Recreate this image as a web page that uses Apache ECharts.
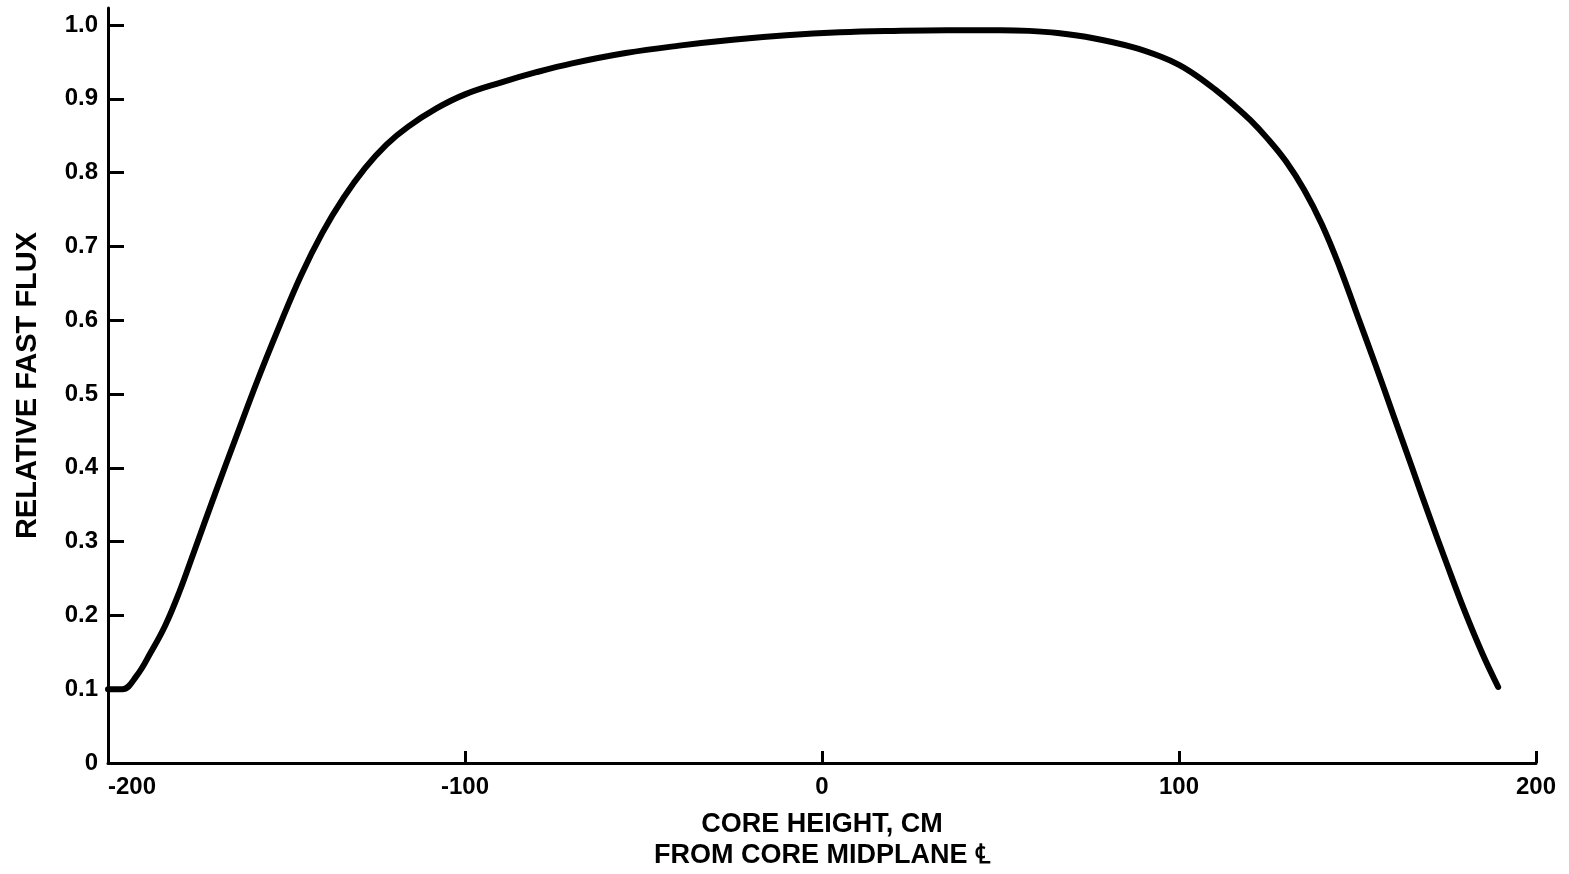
<!DOCTYPE html>
<html>
<head>
<meta charset="utf-8">
<script src="https://cdn.jsdelivr.net/npm/echarts@6/dist/echarts.min.js"></script>
<style>
    html, body { margin: 0; padding: 0; background: #fff; }
    #flux-chart { width: 1569px; height: 874px; }
</style>
</head>
<body>
<div id="flux-chart"></div>
<script>
// core height (cm from midplane) and relative fast flux
var core_height = [-200, -196, -192, -188, -184, -180, -176, -170, -164, -158,
    -152, -146, -140, -134, -128, -122, -116, -108, -100, -90,
    -80, -70, -55, -40, -25, -10, 5, 20, 35, 50,
    58, 66, 76, 87, 95, 100, 105, 110, 115, 120,
    125, 130, 135, 140, 145, 150, 155, 160, 165, 170,
    175, 180, 185, 189.4];
var fast_flux = [0.100, 0.100, 0.118, 0.150, 0.186, 0.232, 0.285, 0.365, 0.443, 0.520,
    0.592, 0.660, 0.718, 0.766, 0.806, 0.838, 0.862, 0.887, 0.906, 0.922,
    0.936, 0.948, 0.962, 0.972, 0.980, 0.986, 0.990, 0.992, 0.993, 0.993,
    0.992, 0.989, 0.982, 0.970, 0.957, 0.946, 0.931, 0.913, 0.893, 0.871,
    0.845, 0.815, 0.777, 0.730, 0.672, 0.606, 0.540, 0.472, 0.404, 0.336,
    0.270, 0.206, 0.148, 0.103];

var x_ticks = [-200, -100, 0, 100, 200];
var y_ticks = [0, 0.1, 0.2, 0.3, 0.4, 0.5, 0.6, 0.7, 0.8, 0.9, 1.0];
var y_top = 1.023; // axis line runs a little past 1.0

var font = 'Liberation Sans, Arial, sans-serif';

var flux_data = core_height.map(function (h, i) { return [h, fast_flux[i]]; });

var chart = echarts.init(document.getElementById('flux-chart'));
var option = {
    backgroundColor: '#fff',
    animation: false,
    grid: {
        left: 108,
        right: 33,
        top: 8,
        bottom: 111,
        outerBoundsMode: 'none'
    },
    xAxis: {
        type: 'value',
        min: x_ticks[0],
        max: x_ticks[x_ticks.length - 1],
        interval: 100,
        name: 'CORE HEIGHT, CM\nFROM CORE MIDPLANE \u2104',
        nameLocation: 'middle',
        nameGap: 46,
        nameTextStyle: {
            color: '#000',
            fontFamily: font,
            fontWeight: 'bold',
            fontSize: 27,
            lineHeight: 31,
            verticalAlign: 'top'
        },
        axisLine: { onZero: false, lineStyle: { color: '#000', width: 3 } },
        axisTick: { inside: true, length: 12, lineStyle: { color: '#000', width: 3 } },
        axisLabel: {
            color: '#000',
            fontFamily: font,
            fontWeight: 'bold',
            fontSize: 24,
            margin: 12,
            alignMinLabel: 'left'
        },
        splitLine: { show: false }
    },
    yAxis: {
        type: 'value',
        min: y_ticks[0],
        max: y_top,
        name: 'RELATIVE FAST FLUX',
        nameLocation: 'middle',
        nameGap: 66,
        nameTextStyle: {
            color: '#000',
            fontFamily: font,
            fontWeight: 'bold',
            fontSize: 29
        },
        axisLine: { show: true, onZero: false, lineStyle: { color: '#000', width: 3 } },
        axisTick: {
            show: true,
            inside: true,
            length: 16,
            customValues: y_ticks,
            lineStyle: { color: '#000', width: 3 }
        },
        axisLabel: {
            color: '#000',
            fontFamily: font,
            fontWeight: 'bold',
            fontSize: 24,
            margin: 10,
            customValues: y_ticks,
            formatter: function (v) {
                return v === 0 ? '0' : v.toFixed(1);
            }
        },
        splitLine: { show: false }
    },
    series: [
        {
            type: 'line',
            data: flux_data,
            smooth: 0.4,
            showSymbol: false,
            lineStyle: { color: '#000', width: 6, cap: 'round', join: 'round' }
        }
    ]
};
chart.setOption(option);
</script>
</body>
</html>
